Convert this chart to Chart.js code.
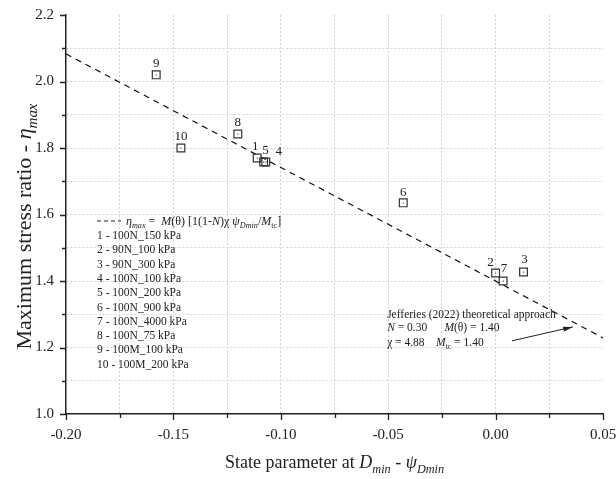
<!DOCTYPE html>
<html lang="en">
<head>
    <meta charset="utf-8">
    <title>Maximum stress ratio vs state parameter</title>
    <style>
        html, body { margin: 0; padding: 0; background: #fff; }
        #wrap { width: 616px; height: 479px; }
    </style>
</head>
<body>
    <div id="wrap"><canvas id="myChart" width="616" height="479"></canvas></div>
    <script src="https://cdn.jsdelivr.net/npm/chart.js"></script>
    <script>
        // test data
        const testIds = ['1', '2', '3', '4', '5', '6', '7', '8', '9', '10'];
        const testNames = ['100N_150 kPa', '90N_100 kPa', '90N_300 kPa', '100N_100 kPa', '100N_200 kPa',
            '100N_900 kPa', '100N_4000 kPa', '100N_75 kPa', '100M_100 kPa', '100M_200 kPa'];
        const psiDmin = [-0.111, 0.000, 0.013, -0.107, -0.108, -0.043, 0.0035, -0.120, -0.158, -0.1465];
        const etaMax = [1.770, 1.424, 1.427, 1.758, 1.758, 1.635, 1.400, 1.842, 2.020, 1.800];

        // Jefferies (2022) theoretical line, end points
        const theoryX = [-0.20, 0.05];
        const theoryY = [2.083, 1.229];

        const xTicks = [-0.20, -0.15, -0.10, -0.05, 0.00, 0.05];
        const yTicks = [1.0, 1.2, 1.4, 1.6, 1.8, 2.0, 2.2];

        const SERIF = '"Liberation Serif", "DejaVu Serif", serif';
        const INK = '#222';

        // draw mixed text: parts = [text, style] where style is 'n', 'i', 's' (italic sub) or 'sn' (upright sub)
        const fontFor = (s, size) => {
            let sz = size, st = '', dy = 0;
            if (s === 'i') st = 'italic ';
            if (s === 's') { st = 'italic '; sz = size * 0.68; dy = size * 0.28; }
            if (s === 'sn') { sz = size * 0.68; dy = size * 0.28; }
            return { font: st + sz + 'px ' + SERIF, dy: dy };
        };
        const drawRich = (ctx, x, y, parts, size) => {
            let cx = x;
            parts.forEach(([t, s]) => {
                const f = fontFor(s, size);
                ctx.font = f.font;
                ctx.fillText(t, cx, y + f.dy);
                cx += ctx.measureText(t).width;
            });
            return cx - x;
        };
        const richWidth = (ctx, parts, size) => {
            let w = 0;
            parts.forEach(([t, s]) => {
                ctx.font = fontFor(s, size).font;
                w += ctx.measureText(t).width;
            });
            return w;
        };

        const labelOffsets = [[-2, -11], [-5, -10], [1, -12], [13, -10], [2, -11],
            [0, -10], [1, -12], [0, -11], [0, -11], [0, -11]];

        const decor = {
            id: 'decor',
            afterDraw(chart) {
                const ctx = chart.ctx;
                const xs = chart.scales.x, ys = chart.scales.y;
                const area = chart.chartArea;
                ctx.save();
                ctx.fillStyle = INK;
                ctx.strokeStyle = INK;

                // tick marks, major and minor
                ctx.lineWidth = 1.3;
                ctx.beginPath();
                for (let i = 0; i <= 10; i++) {
                    const v = -0.2 + i * 0.025;
                    const px = Math.round(xs.getPixelForValue(v)) + 0.5;
                    const len = i % 2 === 0 ? 6 : 4;
                    ctx.moveTo(px, area.bottom);
                    ctx.lineTo(px, area.bottom + len);
                }
                for (let i = 0; i <= 12; i++) {
                    const v = 1.0 + i * 0.1;
                    const py = Math.round(ys.getPixelForValue(v)) + 0.5;
                    const len = i % 2 === 0 ? 6 : 4;
                    ctx.moveTo(area.left, py);
                    ctx.lineTo(area.left - len, py);
                }
                ctx.stroke();

                // center dots of the square markers and their numbers
                ctx.textAlign = 'center';
                ctx.textBaseline = 'middle';
                psiDmin.forEach((v, i) => {
                    const px = xs.getPixelForValue(v), py = ys.getPixelForValue(etaMax[i]);
                    ctx.fillStyle = '#555';
                    ctx.fillRect(px - 0.5, py - 0.5, 1.2, 1.2);
                    ctx.fillStyle = INK;
                    ctx.font = '13px ' + SERIF;
                    ctx.fillText(testIds[i], px + labelOffsets[i][0], py + labelOffsets[i][1]);
                });

                // axis titles
                ctx.textAlign = 'left';
                ctx.textBaseline = 'alphabetic';
                const xt = [['State parameter at ', 'n'], ['D', 'i'], ['min', 's'], [' - ', 'n'], ['ψ', 'i'], ['Dmin', 's']];
                const xw = richWidth(ctx, xt, 18);
                drawRich(ctx, (area.left + area.right) / 2 - xw / 2, 468, xt, 18);

                const yt = [['Maximum stress ratio - ', 'n'], ['η', 'i'], ['max', 's']];
                const yw = richWidth(ctx, yt, 22);
                ctx.save();
                ctx.translate(31, (area.top + area.bottom) / 2 + 12);
                ctx.rotate(-Math.PI / 2);
                drawRich(ctx, -yw / 2, 0, yt, 22);
                ctx.restore();

                // legend box
                const lx = 97, ly = 221;
                ctx.lineWidth = 1.2;
                ctx.setLineDash([4, 3]);
                ctx.beginPath();
                ctx.moveTo(lx, ly);
                ctx.lineTo(lx + 24, ly);
                ctx.stroke();
                ctx.setLineDash([]);
                const formula = [['η', 'i'], ['max', 's'], [' =  ', 'n'], ['M', 'i'], ['(θ) [1(1-', 'n'], ['N', 'i'],
                    [')χ ', 'n'], ['ψ', 'i'], ['Dmin', 's'], ['/', 'n'], ['M', 'i'], ['tc', 'sn'], [']', 'n']];
                drawRich(ctx, lx + 29, ly + 4, formula, 12);
                ctx.font = '11.5px ' + SERIF;
                testNames.forEach((n, i) => {
                    ctx.fillText(testIds[i] + ' - ' + n, lx, ly + 18 + i * 14.3);
                });

                // theoretical approach note and arrow
                const tx = xs.getPixelForValue(-0.0505), ty = ys.getPixelForValue(1.29);
                drawRich(ctx, tx, ty, [['Jefferies (2022) theoretical approach', 'n']], 11.5);
                drawRich(ctx, tx, ty + 13, [['N', 'i'], [' = 0.30      ', 'n'], ['M', 'i'], ['(θ) = 1.40', 'n']], 11.5);
                drawRich(ctx, tx, ty + 28, [['χ = 4.88    ', 'n'], ['M', 'i'], ['tc', 'sn'], [' = 1.40', 'n']], 11.5);

                const ax0 = xs.getPixelForValue(0.0076), ay0 = ys.getPixelForValue(1.22);
                const ax1 = xs.getPixelForValue(0.036), ay1 = ys.getPixelForValue(1.262);
                ctx.lineWidth = 1;
                ctx.beginPath();
                ctx.moveTo(ax0, ay0);
                ctx.lineTo(ax1, ay1);
                ctx.stroke();
                const ang = Math.atan2(ay1 - ay0, ax1 - ax0);
                ctx.beginPath();
                ctx.moveTo(ax1, ay1);
                ctx.lineTo(ax1 - 10 * Math.cos(ang - 0.25), ay1 - 10 * Math.sin(ang - 0.25));
                ctx.lineTo(ax1 - 10 * Math.cos(ang + 0.25), ay1 - 10 * Math.sin(ang + 0.25));
                ctx.closePath();
                ctx.fill();
                ctx.restore();
            }
        };

        const gridColor = (ctx, lo, hi) => {
            const v = ctx.tick ? ctx.tick.value : null;
            if (v === null || Math.abs(v - lo) < 1e-9 || Math.abs(v - hi) < 1e-9) return 'rgba(0,0,0,0)';
            return '#d2d2d2';
        };

        const ctx = document.getElementById('myChart').getContext('2d');
        const myChart = new Chart(ctx, {
            type: 'scatter',
            data: {
                datasets: [
                    {
                        label: 'theory',
                        type: 'line',
                        data: theoryX.map((x, i) => ({ x: x, y: theoryY[i] })),
                        borderColor: '#111',
                        borderWidth: 1.2,
                        borderDash: [6, 5],
                        pointRadius: 0,
                        fill: false,
                        order: 2
                    },
                    {
                        label: 'tests',
                        data: psiDmin.map((x, i) => ({ x: x, y: etaMax[i] })),
                        pointStyle: 'rect',
                        pointRadius: 5.5,
                        borderColor: '#333',
                        borderWidth: 1.2,
                        backgroundColor: 'rgba(255,255,255,0)',
                        order: 1
                    }
                ]
            },
            plugins: [decor],
            options: {
                responsive: false,
                animation: false,
                layout: { padding: { top: 15, right: 13, left: 0, bottom: 0 } },
                plugins: { legend: { display: false }, tooltip: { enabled: false } },
                scales: {
                    x: {
                        type: 'linear',
                        min: -0.2,
                        max: 0.05,
                        afterFit: s => { s.height = 65; s.paddingLeft = 0; s.paddingRight = 0; },
                        afterBuildTicks: s => { s.ticks = Array.from({ length: 11 }, (_, i) => ({ value: -0.2 + i * 0.025 })); },
                        ticks: {
                            padding: 12,
                            color: INK,
                            font: { family: SERIF, size: 15 },
                            callback: v => {
                                const hit = xTicks.find(t => Math.abs(t - v) < 1e-9);
                                return hit === undefined ? '' : hit.toFixed(2);
                            }
                        },
                        grid: { color: c => gridColor(c, -0.2, 0.05), drawTicks: false, lineWidth: 1 },
                        border: { display: true, color: INK, width: 1.5, dash: [2, 2] }
                    },
                    y: {
                        type: 'linear',
                        min: 1.0,
                        max: 2.2,
                        afterFit: s => { s.width = 66; s.paddingTop = 0; s.paddingBottom = 0; },
                        afterBuildTicks: s => { s.ticks = Array.from({ length: 13 }, (_, i) => ({ value: 1.0 + i * 0.1 })); },
                        ticks: {
                            padding: 12,
                            color: INK,
                            font: { family: SERIF, size: 15 },
                            callback: v => {
                                const hit = yTicks.find(t => Math.abs(t - v) < 1e-9);
                                return hit === undefined ? '' : hit.toFixed(1);
                            }
                        },
                        grid: { color: c => gridColor(c, 1.0, 2.2), drawTicks: false, lineWidth: 1 },
                        border: { display: true, color: INK, width: 1.5, dash: [2, 2] }
                    }
                }
            }
        });
    </script>
</body>
</html>
